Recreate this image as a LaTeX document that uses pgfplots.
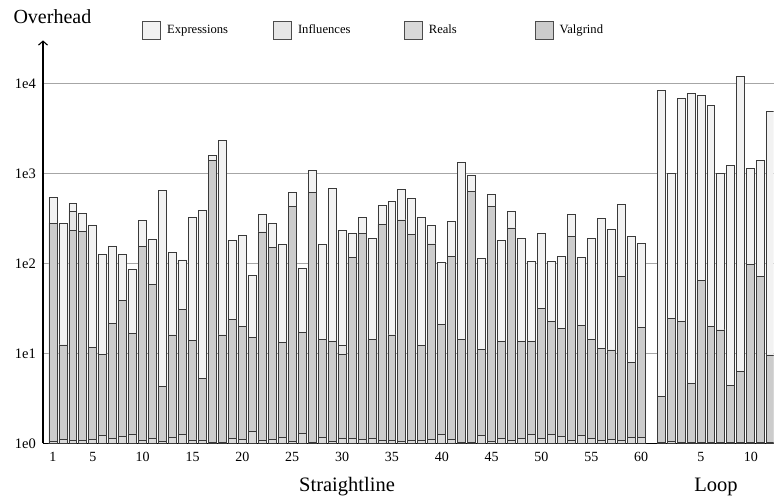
\documentclass[border=0pt]{standalone}
\usepackage{fontspec}
\setmainfont{Liberation Serif}
\usepackage{pgfplots}
\usepackage{pgfplotstable}
\usetikzlibrary{arrows.meta}
\pgfplotsset{compat=1.18}

\definecolor{cExpr}{HTML}{F2F2F2}
\definecolor{cInfl}{HTML}{E6E6E6}
\definecolor{cReal}{HTML}{D9D9D9}
\definecolor{cValg}{HTML}{CCCCCC}
\definecolor{cEdge}{HTML}{3A3A3A}

% Straight-line benchmarks, positions 1..60
\pgfplotstableread{
x  expr  infl  reals valg
1  540   280   1.05  280
2  280   12.4  1.11  12.4
3  460   380   1.08  230
4  359   224   1.08  224
5  267   11.7  1.11  11.7
6  126   9.75  1.21  9.75
7  156   21.5  1.13  21.5
8  126   38.4  1.18  38.4
9  86    16.7  1.27  16.7
10 300   153   1.09  153
11 186   58.5  1.13  58.5
12 641   4.25  1.04  4.25
13 133   16.0  1.17  16.0
14 109   30.8  1.24  30.8
15 327   14.0  1.09  14.0
16 388   5.2   1.09  5.2
17 1597  1406  1.03  1406
18 2301  16.0  1.03  16.0
19 180   24.0  1.13  24.0
20 205   20.0  1.11  20.0
21 74    15.1  1.34  15.1
22 347   223   1.09  223
23 278   149   1.11  149
24 163   13.3  1.16  13.3
25 615   433   1.05  433
26 87    17.1  1.30  17.1
27 1080  615   1.03  615
28 163   14.3  1.15  14.3
29 681   13.7  1.05  13.7
30 234   12.1  1.12  9.8
31 213   116   1.14  116
32 327   213   1.10  213
33 188   14.3  1.14  14.3
34 441   271   1.08  271
35 484   16.0  1.07  16.0
36 664   303   1.05  303
37 522   210   1.07  210
38 324   12.1  1.07  12.1
39 264   164   1.10  164
40 103   21.0  1.24  21.0
41 290   118   1.11  118
42 1336  14.1  1.03  14.1
43 950   636   1.03  636
44 112   11.1  1.23  11.1
45 585   425   1.05  425
46 179   13.7  1.14  13.7
47 375   247   1.08  247
48 188   13.7  1.14  13.7
49 104   13.7  1.25  13.7
50 215   31.6  1.12  31.6
51 104   22.4  1.24  22.4
52 118   19.0  1.20  19.0
53 347   201   1.08  201
54 117   20.3  1.21  20.3
55 188   14.3  1.14  14.3
56 313   11.3  1.08  11.3
57 239   10.9  1.11  10.9
58 456   71    1.08  71
59 198   7.9   1.15  7.9
60 167   19.6  1.15  19.6
}\straightdata

% Loop benchmarks, positions 62..73
\pgfplotstableread{
x  expr   infl  reals valg
62 8430   3.3   1.02  3.3
63 1000   24.5  1.06  24.5
64 6810   22.4  1.02  22.4
65 7670   4.6   1.02  4.6
66 7290   64    1.02  64
67 5640   19.8  1.02  19.8
68 1000   18.2  1.02  18.2
69 1236   4.36  1.02  4.36
70 12050  6.25  1.02  6.25
71 1127   97.5  1.03  97.5
72 1406   71    1.03  71
73 4830   9.6   1.02  9.6
}\loopdata

\pgfplotsset{
  benchbar/.style={ybar, bar shift=0pt, bar width=0.8, draw=cEdge,
    line width=0.8pt, forget plot},
  boxlegend/.style={legend image code/.code={%
    \draw[##1, draw=black!70, line width=0.8pt] (0pt,-9pt) rectangle (18pt,9pt);}},
}

\begin{document}
\begin{tikzpicture}
\begin{axis}[
  scale only axis,
  width=730.7pt, height=402.9pt,
  xmin=0, xmax=73.3,
  ymode=log, ymin=1, ymax=30000,
  axis lines=left,
  x axis line style={-, line width=0.8pt, black},
  y axis line style={-{Straight Barb[length=4pt, width=9pt, line width=1.1pt]}, line width=1.1pt, black},
  major tick length=0pt, minor tick length=0pt,
  yminorticks=false,
  ytick={1,10,100,1000,10000},
  yticklabels={1e0,1e1,1e2,1e3,1e4},
  xtick={1,5,10,15,20,25,30,35,40,45,50,55,60,66,71},
  xticklabels={1,5,10,15,20,25,30,35,40,45,50,55,60,5,10},
  yticklabel style={font=\fontsize{14.5}{16}\selectfont, inner sep=0pt, xshift=-7pt},
  xticklabel style={font=\fontsize{14}{16}\selectfont, inner sep=0pt, yshift=-8.4pt},
  ymajorgrids,
  major grid style={draw=black!35, line width=0.8pt},
  legend columns=4,
  legend style={at={(0.490,1.0258)}, anchor=center, draw=none, fill=none,
    font=\fontsize{12.6}{14}\selectfont, column sep=6pt,
    nodes={inner sep=0pt}},
  clip=true,
]
% legend swatches
\addlegendimage{boxlegend, fill=cExpr}
\addlegendentry{\makebox[100pt][l]{Expressions}}
\addlegendimage{boxlegend, fill=cInfl}
\addlegendentry{\makebox[100pt][l]{Influences}}
\addlegendimage{boxlegend, fill=cReal}
\addlegendentry{\makebox[100pt][l]{Reals}}
\addlegendimage{boxlegend, fill=cValg}
\addlegendentry{\makebox[100pt][l]{Valgrind}}

% overlaid bars, tallest first
\addplot[benchbar, fill=cExpr] table[x=x, y=expr] {\straightdata};
\addplot[benchbar, fill=cExpr] table[x=x, y=expr] {\loopdata};
\addplot[benchbar, fill=cInfl] table[x=x, y=infl] {\straightdata};
\addplot[benchbar, fill=cInfl] table[x=x, y=infl] {\loopdata};
\addplot[benchbar, fill=cValg] table[x=x, y=valg] {\straightdata};
\addplot[benchbar, fill=cValg] table[x=x, y=valg] {\loopdata};
\addplot[benchbar, fill=cReal] table[x=x, y=reals] {\straightdata};
\addplot[benchbar, fill=cReal] table[x=x, y=reals] {\loopdata};

\coordinate (SW) at (rel axis cs:0,0);
\coordinate (NW) at (rel axis cs:0,1);
\coordinate (NE) at (rel axis cs:1,1);
\coordinate (GS) at (axis cs:30.5,1);
\coordinate (GL) at (axis cs:67.5,1);
\end{axis}
\node[anchor=base west, font=\fontsize{20}{22}\selectfont]
  at ([xshift=-33pt, yshift=16.4pt]NW) {Overhead};
\node[anchor=base, font=\fontsize{20.5}{22}\selectfont]
  at ([yshift=-47.7pt]GS) {Straightline};
\node[anchor=base, font=\fontsize{20.5}{22}\selectfont]
  at ([yshift=-47.7pt]GL) {Loop};
\pgfresetboundingbox
\path ([xshift=-43pt, yshift=-54.7pt]SW) rectangle ([xshift=0.3pt, yshift=40.4pt]NE);
\end{tikzpicture}
\end{document}
